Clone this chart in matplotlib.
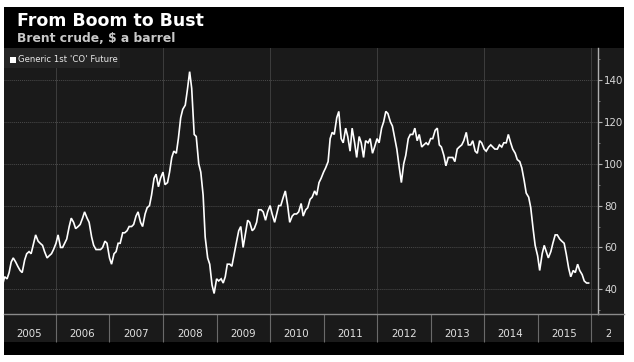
import matplotlib
matplotlib.use("Agg")
import matplotlib.pyplot as plt
import matplotlib.dates as mdates
from matplotlib.patches import Rectangle
from matplotlib.transforms import Bbox
import pandas as pd
import datetime as dt

# ---- data (semi-monthly Brent front-month, $ a barrel) ----
title = "From Boom to Bust"
subtitle = "Brent crude, $ a barrel"
series_name = "Generic 1st 'CO' Future"
years = list(range(2005, 2017))
y_ticks = [40, 60, 80, 100, 120, 140]

v2005 = [42, 46, 45, 48, 53, 55, 53, 51, 49, 48, 54, 57, 58, 57, 62, 66, 63, 62, 61, 58, 55, 56, 57, 59]
v2006 = [62, 66, 60, 60, 62, 64, 70, 74, 72, 69, 70, 71, 74, 77, 74, 72, 65, 61, 59, 59, 59, 60, 63, 62]
v2007 = [55, 52, 57, 58, 62, 62, 67, 67, 68, 70, 70, 71, 75, 77, 72, 70, 76, 79, 80, 85, 93, 95, 89, 93]
v2008 = [96, 90, 91, 96, 103, 106, 105, 112, 122, 126, 128, 135, 144, 136, 114, 113, 100, 96, 85, 65, 55, 52, 42, 38]
v2009 = [45, 44, 45, 43, 46, 52, 52, 51, 57, 62, 68, 70, 60, 66, 73, 72, 68, 69, 72, 78, 78, 77, 73, 77]
v2010 = [80, 76, 72, 76, 80, 80, 84, 87, 80, 72, 75, 76, 76, 77, 81, 75, 78, 79, 83, 84, 87, 85, 91, 93]
v2011 = [96, 98, 101, 112, 115, 114, 122, 125, 112, 110, 117, 113, 106, 117, 110, 103, 113, 110, 103, 111, 110, 112, 105, 108]
v2012 = [112, 110, 117, 120, 125, 124, 120, 118, 112, 107, 98, 91, 100, 104, 112, 114, 114, 117, 111, 114, 108, 109, 110, 109]
v2013 = [112, 112, 116, 117, 109, 108, 104, 99, 103, 103, 103, 101, 107, 108, 109, 111, 115, 109, 109, 111, 106, 105, 111, 110]
v2014 = [107, 106, 108, 109, 108, 107, 107, 109, 108, 110, 110, 114, 110, 107, 105, 102, 101, 98, 92, 86, 84, 79, 69, 61]
v2015 = [56, 49, 57, 61, 58, 55, 58, 62, 66, 66, 64, 63, 62, 57, 50, 46, 49, 48, 52, 49, 47, 44, 43, 43]

values = v2005 + v2006 + v2007 + v2008 + v2009 + v2010 + v2011 + v2012 + v2013 + v2014 + v2015
dates = pd.date_range("2005-01-01", "2015-12-31", freq="SMS")

# ---- figure ----
W, H = 634, 362
fig = plt.figure(figsize=(W / 100, H / 100), dpi=100, facecolor="white")

def fr(x0, y0, x1, y1):
    return (x0 / W, 1 - y1 / H, (x1 - x0) / W, (y1 - y0) / H)

def add_rect(x0, y0, x1, y1, color, z=-1):
    l, b, w, h = fr(x0, y0, x1, y1)
    fig.patches.append(Rectangle((l, b), w, h, transform=fig.transFigure,
                                 facecolor=color, edgecolor="none", zorder=z))

BG = "#1a1a1a"
add_rect(4, 7, 624, 48, "#000000")
add_rect(4, 48, 624, 342, BG)
add_rect(4, 342, 624, 355, "#000000")

ax = fig.add_axes(fr(4, 48, 598, 314))
ax.set_facecolor(BG)
ax.plot(dates, values, color="white", lw=1.2, zorder=3, solid_joinstyle="miter")

ax.set_xlim(dt.datetime(2005, 1, 11), dt.datetime(2016, 2, 17))
ax.set_ylim(28.2, 155.3)

# y axis on right
ax.yaxis.tick_right()
ax.set_yticks(y_ticks)
ax.set_yticks(list(range(30, 156, 10)), minor=True)
ax.tick_params(axis="y", which="major", direction="out", length=3, width=0.8,
               color="#b0b0b0", labelcolor="#d8d8d8", labelsize=7.4, pad=1.5)
ax.tick_params(axis="y", which="minor", direction="out", length=1.5, width=0.6,
               color="#888888")

# x axis: separators at year starts, labels at mid-year
ax.set_xticks([mdates.date2num(dt.datetime(y, 1, 1)) for y in years[1:]])
ax.set_xticklabels([])
ax.set_xticks([mdates.date2num(dt.datetime(y, 7, 1)) for y in years[:-1]], minor=True)
ax.set_xticklabels([str(y) for y in years[:-1]], minor=True)
ax.tick_params(axis="x", which="major", direction="out", length=20, width=0.8,
               color="#6a6a6a")
ax.tick_params(axis="x", which="minor", length=0, labelcolor="#e0e0e0",
               labelsize=7.4, pad=11)

# grid
for y in y_ticks:
    ax.axhline(y, color="#4a4a4a", lw=0.7, ls=(0, (1, 1)), zorder=1)
for y in range(2006, 2017, 2):
    ax.axvline(dt.datetime(y, 1, 1), color="#3e3e3e", lw=0.7, zorder=1)

for s in ["top", "left"]:
    ax.spines[s].set_visible(False)
ax.spines["right"].set_color("#b0b0b0")
ax.spines["right"].set_linewidth(1.0)
ax.spines["bottom"].set_color("#8a8a8a")
ax.spines["bottom"].set_linewidth(1.0)

# horizontal band line extends to right edge
fig.add_artist(plt.Line2D([598 / W, 624 / W], [1 - 314 / H, 1 - 314 / H],
                          transform=fig.transFigure, color="#8a8a8a", lw=1.0))

# partially visible 2016 label
t16 = fig.text(618 / W, 1 - 334 / H, "2016", color="#e0e0e0", fontsize=7.4,
               ha="center", va="center")
t16.set_clip_box(Bbox.from_extents(0, 0, 611, H))
t16.set_clip_on(True)

# legend box
add_rect(4, 48, 120, 68, "#242424", z=5)
add_rect(10, 57, 16, 63, "#ffffff", z=6)
fig.text(18 / W, 1 - 60 / H, series_name, color="#e8e8e8", fontsize=6.1,
         ha="left", va="center", zorder=7)

# titles
fig.text(17 / W, 1 - 26 / H, title, color="white", fontsize=12.5,
         fontweight="bold", ha="left", va="baseline")
fig.text(17 / W, 1 - 42 / H, subtitle, color="#c8c8c8", fontsize=8.9,
         fontweight="bold", ha="left", va="baseline")

fig.savefig("out.png", dpi=100, facecolor="white")
